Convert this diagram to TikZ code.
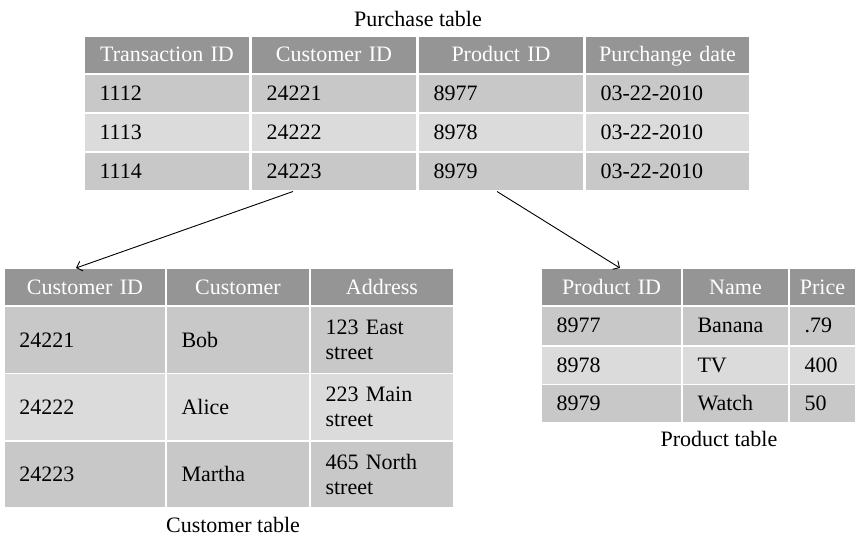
\documentclass[tikz,border=0pt]{standalone}
\usepackage{fontspec}
\setmainfont{Liberation Serif}
\usetikzlibrary{arrows.meta}
\definecolor{hdgray}{HTML}{959595}
\definecolor{rowA}{HTML}{C8C8C8}
\definecolor{rowB}{HTML}{DBDBDB}
\tikzset{
  cellbase/.style={anchor=north west, inner sep=0pt, outer sep=0pt, font=\fontsize{22}{25}\selectfont},
  hd/.style={cellbase, fill=hdgray, text=white, align=center, text height=17pt, text depth=3pt},
  ra/.style={cellbase, fill=rowA, text=black, align=left},
  rb/.style={cellbase, fill=rowB, text=black, align=left},
  ttl/.style={font=\fontsize{22}{25}\selectfont, text=black, anchor=base, inner sep=0pt},
  link/.style={draw=black, line width=0.9pt, -{Straight Barb[length=5pt,width=10pt]}}
}
% name, x, y, w, h, style, text
\newcommand{\tcell}[7]{%
  \node[#6, minimum width=#4pt, minimum height=#5pt, text width=#4pt-29pt] (#1) at (#2,#3) {#7};}
\newcommand{\hcell}[6]{%
  \node[hd, minimum width=#4pt, minimum height=#5pt, text width=#4pt] (#1) at (#2,#3) {#6};}
\begin{document}
\begin{tikzpicture}[x=1pt,y=-1pt]
\useasboundingbox (0,0) rectangle (855,536);
% Purchase table
\node[ttl] (ptitle) at (418,26) {Purchase table};
\hcell{p01}{85}{36.5}{164}{36}{Transaction ID}
\hcell{p02}{252}{36.5}{164}{36}{Customer ID}
\hcell{p03}{419}{36.5}{164}{36}{Product ID}
\hcell{p04}{586}{36.5}{163}{36}{Purchange date}
\tcell{p11}{85}{75}{164}{37}{ra}{1112}
\tcell{p12}{252}{75}{164}{37}{ra}{24221}
\tcell{p13}{419}{75}{164}{37}{ra}{8977}
\tcell{p14}{586}{75}{163}{37}{ra}{03-22-2010}
\tcell{p21}{85}{114}{164}{37}{rb}{1113}
\tcell{p22}{252}{114}{164}{37}{rb}{24222}
\tcell{p23}{419}{114}{164}{37}{rb}{8978}
\tcell{p24}{586}{114}{163}{37}{rb}{03-22-2010}
\tcell{p31}{85}{153}{164}{36.5}{ra}{1114}
\tcell{p32}{252}{153}{164}{36.5}{ra}{24223}
\tcell{p33}{419}{153}{164}{36.5}{ra}{8979}
\tcell{p34}{586}{153}{163}{36.5}{ra}{03-22-2010}
% Customer table
\hcell{c01}{5}{269}{160}{36}{Customer ID}
\hcell{c02}{167}{269}{142}{36}{Customer}
\hcell{c03}{311}{269}{142}{36}{Address}
\tcell{c11}{5}{307}{160}{65.5}{ra}{24221}
\tcell{c12}{167}{307}{142}{65.5}{ra}{Bob}
\tcell{c13}{311}{307}{142}{65.5}{ra}{123 East\\street}
\tcell{c21}{5}{374}{160}{65.5}{rb}{24222}
\tcell{c22}{167}{374}{142}{65.5}{rb}{Alice}
\tcell{c23}{311}{374}{142}{65.5}{rb}{223 Main\\street}
\tcell{c31}{5}{441.5}{160}{65.5}{ra}{24223}
\tcell{c32}{167}{441.5}{142}{65.5}{ra}{Martha}
\tcell{c33}{311}{441.5}{142}{65.5}{ra}{465 North\\street}
\node[ttl] (ctitle) at (233,532) {Customer table};
% Product table
\hcell{r01}{542}{269}{139}{36}{Product ID}
\hcell{r02}{683}{269}{105}{36}{Name}
\hcell{r03}{790}{269}{65}{36}{Price}
\tcell{r11}{542}{307}{139}{37.5}{ra}{8977}
\tcell{r12}{683}{307}{105}{37.5}{ra}{Banana}
\tcell{r13}{790}{307}{65}{37.5}{ra}{.79}
\tcell{r21}{542}{346.5}{139}{37}{rb}{8978}
\tcell{r22}{683}{346.5}{105}{37}{rb}{TV}
\tcell{r23}{790}{346.5}{65}{37}{rb}{400}
\tcell{r31}{542}{385}{139}{37}{ra}{8979}
\tcell{r32}{683}{385}{105}{37}{ra}{Watch}
\tcell{r33}{790}{385}{65}{37}{ra}{50}
\node[ttl] (rtitle) at (719,446) {Product table};
% connectors
\draw[link] ([xshift=-41pt,yshift=-2pt]p32.south) -- ([xshift=-9pt,yshift=1pt]c01.north);
\draw[link] ([xshift=-4pt,yshift=-2pt]p33.south) -- ([xshift=8.5pt,yshift=1pt]r01.north);
\end{tikzpicture}
\end{document}
